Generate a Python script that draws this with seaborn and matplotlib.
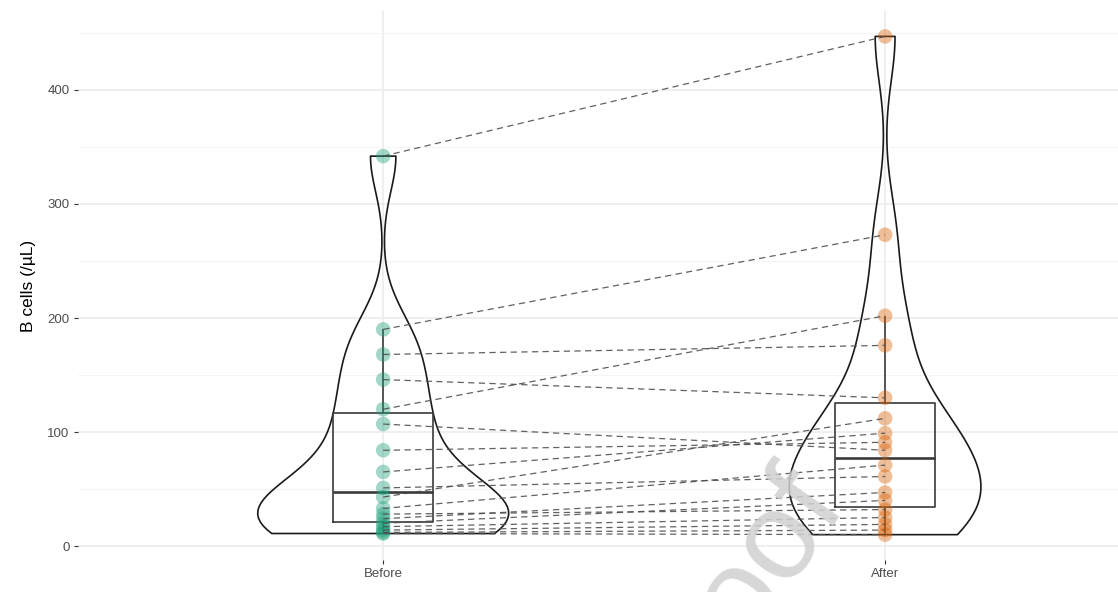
import pandas as pd
import numpy as np
import matplotlib
matplotlib.use("Agg")
import matplotlib.pyplot as plt
import seaborn as sns

# paired B cell counts (/uL), one entry per subject
before = [342, 190, 168, 146, 120, 107, 84, 65, 51, 43, 33, 28, 24, 20, 17, 14, 12, 11]
after = [447, 273, 176, 130, 202, 84, 91, 99, 61, 112, 71, 32, 47, 40, 25, 19, 14, 10]
groups = ["Before", "After"]
colors = ["#1b9e77", "#d95f02"]

n = len(before)
df = pd.DataFrame({
    "subject": list(range(n)) * 2,
    "time": ["Before"] * n + ["After"] * n,
    "value": before + after,
})
df["pos"] = df["time"].map({g: i for i, g in enumerate(groups)})

sns.set_theme(style="whitegrid")
plt.rcParams["font.family"] = ["Liberation Sans", "DejaVu Sans"]

fig = plt.figure(figsize=(11.18, 5.92), dpi=100)
ax = fig.add_axes([0.0698, 0.0547, 0.9302, 0.926])

sns.violinplot(data=df, x="time", y="value", order=groups, ax=ax, fill=False,
               color="#1a1a1a", linewidth=1.2, inner=None, cut=0, width=0.5,
               density_norm="area", bw_method="silverman", bw_adjust=0.6)
sns.boxplot(data=df, x="time", y="value", order=groups, ax=ax, fill=False,
            color="#3a3a3a", linewidth=1.2, width=0.2, showfliers=False,
            showcaps=False, whis=1.5, medianprops={"linewidth": 1.9})
sns.stripplot(data=df, x="time", y="value", order=groups, hue="time",
              palette=colors, ax=ax, jitter=False, size=10.5, alpha=0.4,
              linewidth=0, legend=False)

# paired lines
for s in range(n):
    sub = df[df["subject"] == s].sort_values("pos")
    ax.plot(sub["pos"], sub["value"], ls=(0, (5, 3.5)), color="#505050",
            lw=0.9, alpha=0.9, zorder=4)

ax.set_xlim(-0.608, 1.464)
ax.set_ylim(-11.9, 468.9)
ax.set_yticks([0, 100, 200, 300, 400])
ax.set_yticks([50, 150, 250, 350, 450], minor=True)
ax.grid(True, which="major", color="#ebebeb", lw=1.1)
ax.grid(True, which="minor", color="#f2f2f2", lw=0.6)
ax.tick_params(axis="both", which="major", length=3, width=0.8, color="#333333",
               labelsize=9.5, labelcolor="#4d4d4d", pad=3, left=True, bottom=True)
ax.tick_params(axis="both", which="minor", length=0)
for sp in ax.spines.values():
    sp.set_visible(False)
ax.set_xlabel("")
ax.set_ylabel("B cells (/µL)", fontsize=12.5, color="black", labelpad=8)

# faint watermark from the source page
fig.text(0.659, -0.009, "proof", fontsize=90, color="#d0d0d0", rotation=55,
         ha="center", va="center", alpha=0.85, zorder=10)

fig.savefig("out.png", dpi=100)
